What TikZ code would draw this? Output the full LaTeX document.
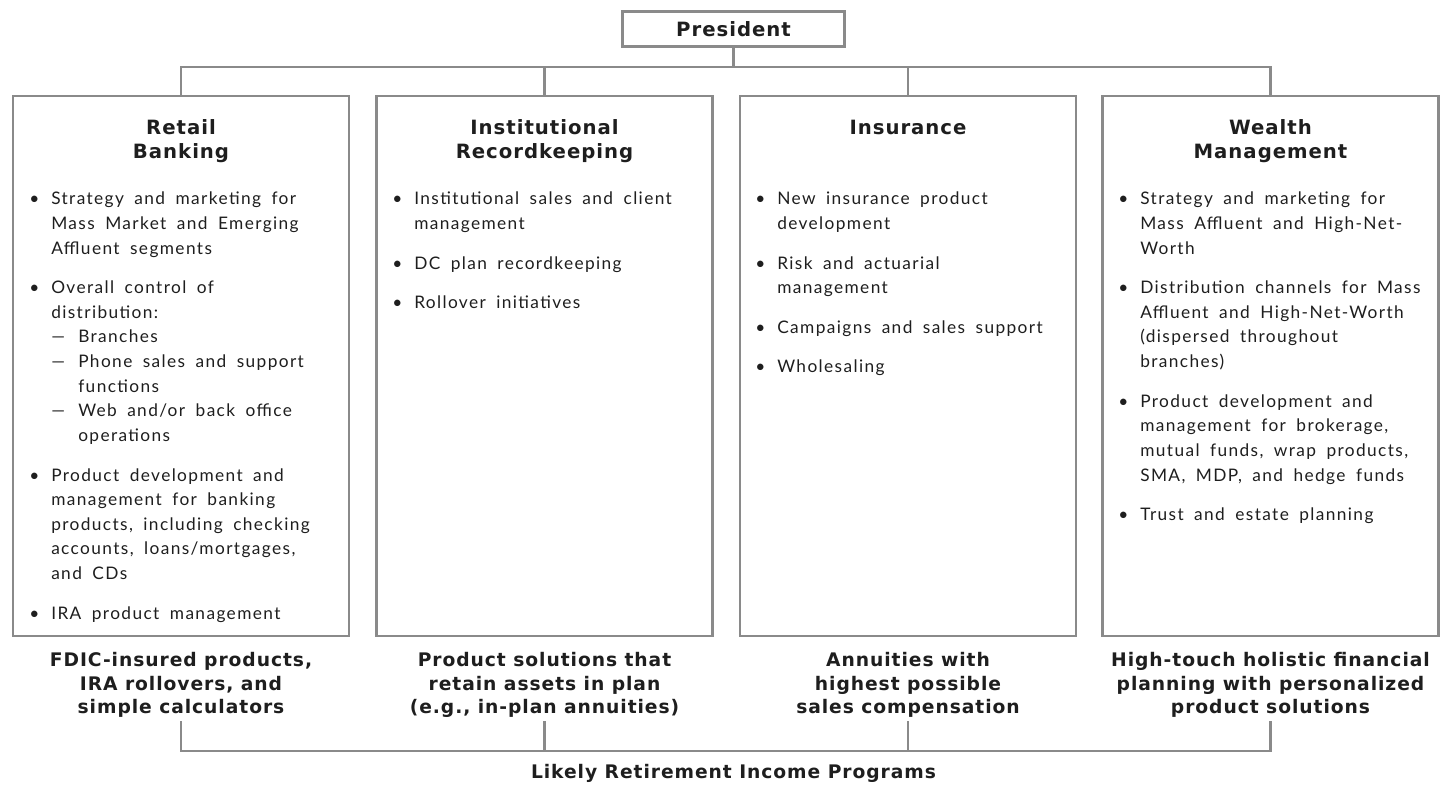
\documentclass[tikz,border=0pt]{standalone}
\usepackage{fontspec}
\setmainfont{Lato}
\newfontfamily\bodyface{Lato}[LetterSpace=8,WordSpace=1.8]
\newfontfamily\headface{DejaVu Sans}[LetterSpace=5]
\usepackage{tikz}
\usetikzlibrary{positioning,calc}

\definecolor{linegray}{RGB}{138,138,138}
\definecolor{inkgray}{RGB}{30,30,30}
\newcommand{\bodyfont}{\bodyface\fontsize{12.3}{17.5}\selectfont}
\newcommand{\headfont}{\headface\fontsize{14}{17}\selectfont\bfseries}
\newcommand{\progfont}{\headface\fontsize{13.3}{16.7}\selectfont\bfseries}
\newcommand{\dsh}[1]{\makebox[0.675cm][l]{\textemdash}#1}
\newcommand{\dind}{\hspace*{0.675cm}}
\tikzset{
  unit/.style={draw=linegray,line width=2.1pt,minimum width=8.4cm,minimum height=13.5cm,inner sep=0pt},
  head/.style={anchor=base,inner sep=0pt,text=inkgray,font=\headfont},
  prog/.style={anchor=base,inner sep=0pt,text=inkgray,font=\progfont},
  body/.style={anchor=base west,inner sep=0pt,text=inkgray,font=\bodyfont},
  wire/.style={draw=linegray,line width=2.1pt}
}

\begin{document}
\begin{tikzpicture}
\useasboundingbox (0,0) rectangle (36.075,19.7);

\draw (18.3375,18.975) node [draw=linegray,line width=2.1pt,minimum width=5.55cm,minimum height=0.875cm,text=inkgray,font=\headfont] (pres) {President};

% the four units
\draw (4.525,10.55) node [unit] (rb) {};
\draw (13.6125,10.55) node [unit] (ir) {};
\draw (22.7,10.55) node [unit] (ins) {};
\draw (31.7625,10.55) node [unit] (wm) {};

\draw (4.525,16.325) node [head] (rbt) {\begin{tabular}[t]{@{}c@{}}Retail\\Banking\end{tabular}};
\draw (13.6125,16.325) node [head] (irt) {\begin{tabular}[t]{@{}c@{}}Institutional\\Recordkeeping\end{tabular}};
\draw (22.7,16.325) node [head] (inst) {Insurance};
\draw (31.7625,16.325) node [head] (wmt) {\begin{tabular}[t]{@{}c@{}}Wealth\\Management\end{tabular}};

\draw (0.725,14.575) node [body] (rbb) {\begin{tabular}[t]{@{}p{0.55cm}@{}l@{}}
\textbullet & Strategy and marketing for\\
 & Mass Market and Emerging\\
 & Affluent segments\\[0.375cm]
\textbullet & Overall control of\\
 & distribution:\\
 & \dsh{Branches}\\
 & \dsh{Phone sales and support}\\
 & \dind functions\\
 & \dsh{Web and/or back office}\\
 & \dind operations\\[0.375cm]
\textbullet & Product development and\\
 & management for banking\\
 & products, including checking\\
 & accounts, loans/mortgages,\\
 & and CDs\\[0.375cm]
\textbullet & IRA product management
\end{tabular}};
\draw (9.8,14.575) node [body] (irb) {\begin{tabular}[t]{@{}p{0.55cm}@{}l@{}}
\textbullet & Institutional sales and client\\
 & management\\[0.375cm]
\textbullet & DC plan recordkeeping\\[0.375cm]
\textbullet & Rollover initiatives
\end{tabular}};
\draw (18.875,14.575) node [body] (insb) {\begin{tabular}[t]{@{}p{0.55cm}@{}l@{}}
\textbullet & New insurance product\\
 & development\\[0.375cm]
\textbullet & Risk and actuarial\\
 & management\\[0.375cm]
\textbullet & Campaigns and sales support\\[0.375cm]
\textbullet & Wholesaling
\end{tabular}};
\draw (27.95,14.575) node [body] (wmb) {\begin{tabular}[t]{@{}p{0.55cm}@{}l@{}}
\textbullet & Strategy and marketing for\\
 & Mass Affluent and High-Net-\\
 & Worth\\[0.375cm]
\textbullet & Distribution channels for Mass\\
 & Affluent and High-Net-Worth\\
 & (dispersed throughout\\
 & branches)\\[0.375cm]
\textbullet & Product development and\\
 & management for brokerage,\\
 & mutual funds, wrap products,\\
 & SMA, MDP, and hedge funds\\[0.375cm]
\textbullet & Trust and estate planning
\end{tabular}};

% programs under each unit
\draw (4.525,3.025) node [prog] (rbp) {\begin{tabular}[t]{@{}c@{}}FDIC-insured products,\\IRA rollovers, and\\simple calculators\end{tabular}};
\draw (13.6125,3.025) node [prog] (irp) {\begin{tabular}[t]{@{}c@{}}Product solutions that\\retain assets in plan\\(e.g., in-plan annuities)\end{tabular}};
\draw (22.7,3.025) node [prog] (insp) {\begin{tabular}[t]{@{}c@{}}Annuities with\\highest possible\\sales compensation\end{tabular}};
\draw (31.7625,3.025) node [prog] (wmp) {\begin{tabular}[t]{@{}c@{}}High-touch holistic financial\\planning with personalized\\product solutions\end{tabular}};
\draw (18.3375,0.225) node [prog] (likely) {Likely Retirement Income Programs};

% connectors
\coordinate (bus) at (0,18.025);
\coordinate (low) at (0,0.925);
\draw [wire] (rb.north) -- (rb.north |- bus) -- (wm.north |- bus) -- (wm.north);
\draw [wire] (pres.south) -- (pres.south |- bus);
\draw [wire] (ir.north) -- (ir.north |- bus);
\draw [wire] (ins.north) -- (ins.north |- bus);
\draw [wire] (rbp.south) -- (rbp.south |- low) -- (wmp.south |- low) -- (wmp.south);
\draw [wire] (irp.south) -- (irp.south |- low);
\draw [wire] (insp.south) -- (insp.south |- low);
\end{tikzpicture}
\end{document}
